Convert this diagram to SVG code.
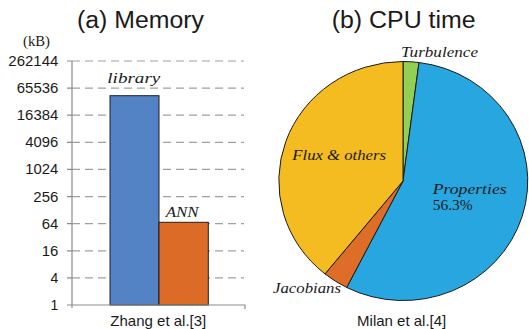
<svg xmlns="http://www.w3.org/2000/svg" width="529" height="329" viewBox="0 0 529 329">
<style>
.title{font-family:"Liberation Sans",Arial,sans-serif;font-size:23px;fill:#1a1a1a}
.cap{font-family:"Liberation Sans",Arial,sans-serif;font-size:15px;fill:#1a1a1a;text-anchor:middle}
.tick{font-family:"Liberation Sans",Arial,sans-serif;font-size:14px;fill:#1a1a1a;text-anchor:end}
.it{font-family:"Liberation Serif","Times New Roman",serif;font-style:italic;font-size:14px;fill:#1a1a1a}
.rm{font-family:"Liberation Serif","Times New Roman",serif;font-size:14px;fill:#1a1a1a}
.grid{stroke:#a0a0a0;stroke-width:1.2;stroke-dasharray:8,5;fill:none}
.axis{stroke:#8c8c8c;stroke-width:1.2;fill:none}
.bar{stroke:#1f1f1f;stroke-width:1}
.slice{stroke:#1a1a1a;stroke-width:1;stroke-linejoin:round}
</style>
<rect width="529" height="329" fill="#ffffff"/>
<g id="memory-chart">
<text class="title" x="77" y="28.3" textLength="127" lengthAdjust="spacingAndGlyphs">(a) Memory</text>
<text class="rm" x="23" y="45.5" font-size="12" textLength="27" lengthAdjust="spacingAndGlyphs">(kB)</text>
<g id="grid">
<line class="grid" x1="72" y1="61" x2="244" y2="61"/>
<line class="grid" x1="72" y1="88.1" x2="244" y2="88.1"/>
<line class="grid" x1="72" y1="115.2" x2="244" y2="115.2"/>
<line class="grid" x1="72" y1="142.3" x2="244" y2="142.3"/>
<line class="grid" x1="72" y1="169.4" x2="244" y2="169.4"/>
<line class="grid" x1="72" y1="196.6" x2="244" y2="196.6"/>
<line class="grid" x1="72" y1="223.7" x2="244" y2="223.7"/>
<line class="grid" x1="72" y1="250.8" x2="244" y2="250.8"/>
<line class="grid" x1="72" y1="277.9" x2="244" y2="277.9"/>
</g>
<g id="ticks">
<path class="axis" d="M67,61H72M67,88.1H72M67,115.2H72M67,142.3H72M67,169.4H72M67,196.6H72M67,223.7H72M67,250.8H72M67,277.9H72M67,305H72"/>
<text class="tick" x="58.3" y="66" textLength="50" lengthAdjust="spacingAndGlyphs">262144</text>
<text class="tick" x="58.3" y="93.1" textLength="41.5" lengthAdjust="spacingAndGlyphs">65536</text>
<text class="tick" x="58.3" y="120.2" textLength="41.5" lengthAdjust="spacingAndGlyphs">16384</text>
<text class="tick" x="58.3" y="147.3" textLength="33" lengthAdjust="spacingAndGlyphs">4096</text>
<text class="tick" x="58.3" y="174.4" textLength="33" lengthAdjust="spacingAndGlyphs">1024</text>
<text class="tick" x="58.3" y="201.6" textLength="25" lengthAdjust="spacingAndGlyphs">256</text>
<text class="tick" x="58.3" y="228.7" textLength="16.6" lengthAdjust="spacingAndGlyphs">64</text>
<text class="tick" x="58.3" y="255.8" textLength="16.6" lengthAdjust="spacingAndGlyphs">16</text>
<text class="tick" x="58.3" y="282.9">4</text>
<text class="tick" x="58.3" y="310">1</text>
</g>
<g id="bar-library">
<rect class="bar" x="110" y="95.7" width="49" height="209.3" fill="#5383c5"/>
<text class="it" x="107.3" y="82.7" textLength="53" lengthAdjust="spacingAndGlyphs">library</text>
</g>
<g id="bar-ann">
<rect class="bar" x="159" y="222.3" width="49.3" height="82.7" fill="#dc6b27"/>
<text class="it" x="165.7" y="217.3" textLength="33" lengthAdjust="spacingAndGlyphs">ANN</text>
</g>
<path class="axis" d="M72,61V308M72,305H245V309"/>
<text class="cap" x="158.3" y="325.7">Zhang et al.[3]</text>
</g>
<g id="cpu-chart">
<text class="title" x="331.7" y="28.3" textLength="144" lengthAdjust="spacingAndGlyphs">(b) CPU time</text>
<g id="slice-turbulence">
<path class="slice" d="M403,181 L403,61.5 A124.5,119.5 0 0 1 419,62.5 Z" fill="#92cf52"/>
<text class="it" x="401" y="57" textLength="77" lengthAdjust="spacingAndGlyphs">Turbulence</text>
</g>
<g id="slice-properties">
<path class="slice" d="M403,181 L419,62.5 A124.5,119.5 0 1 1 346.7,287.5 Z" fill="#28a6df"/>
<text class="it" x="432.7" y="194" textLength="74" lengthAdjust="spacingAndGlyphs">Properties</text>
<text class="rm" x="432.7" y="209.7" textLength="40" lengthAdjust="spacingAndGlyphs">56.3%</text>
</g>
<g id="slice-jacobians">
<path class="slice" d="M403,181 L346.7,287.5 A124.5,119.5 0 0 1 325,273.9 Z" fill="#dd6d27"/>
<text class="it" x="273" y="292.5" textLength="68" lengthAdjust="spacingAndGlyphs">Jacobians</text>
</g>
<g id="slice-flux">
<path class="slice" d="M403,181 L325,273.9 A124.5,119.5 0 0 1 403,61.5 Z" fill="#f5bc22"/>
<text class="it" x="292.3" y="160" textLength="93.7" lengthAdjust="spacingAndGlyphs">Flux &amp; others</text>
</g>
<text class="cap" x="401.7" y="325.7">Milan et al.[4]</text>
</g>
</svg>
